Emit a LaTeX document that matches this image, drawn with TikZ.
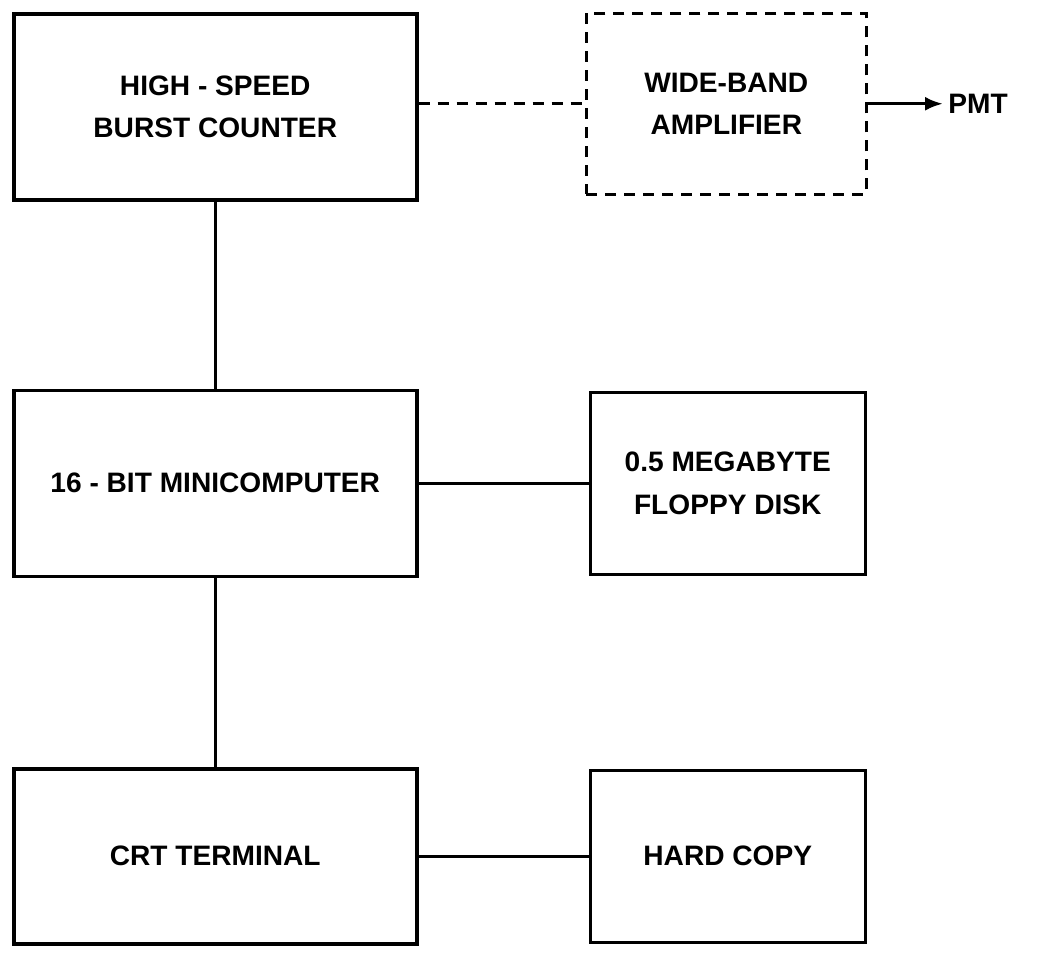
\documentclass[tikz,border=0pt]{standalone}
\usepackage{fontspec}
\setmainfont{Liberation Sans}
\usepackage{tikz}
\usetikzlibrary{arrows.meta, positioning}
\tikzset{
    link/.style={line width=1.9pt},
    flowarrow/.style={-{Latex[length=3.6mm, width=2.8mm]}, line width=1.9pt},
}

\begin{document}
\begin{tikzpicture}[blk/.style={rectangle, draw=black, line width=2pt, align=center, font=\bfseries\fontsize{16}{24}\selectfont, minimum width=8.06cm, minimum height=3.72cm},
                    sideblk/.style={blk, minimum width=5.5cm},
                    dashblk/.style={sideblk, minimum width=5.6cm, dash pattern=on 0.22cm off 0.16cm}]
        \useasboundingbox (0,0) rectangle (20.82,-19.08);
        \node[blk, anchor=north west] (burst) at (0.24,-0.24) {HIGH - SPEED\\BURST COUNTER};
        \node[blk, below=3.74cm of burst] (mini) {16 - BIT MINICOMPUTER};
        \node[blk, below=3.78cm of mini, minimum height=3.5cm] (crt) {CRT TERMINAL};
        \node[dashblk, right=3.32cm of burst, minimum height=3.62cm, yshift=0.06cm] (amp) {WIDE-BAND\\AMPLIFIER};
        \node[sideblk, right=3.4cm of mini, minimum height=3.64cm] (floppy) {0.5 MEGABYTE\\FLOPPY DISK};
        \node[sideblk, right=3.4cm of crt, minimum height=3.44cm] (hard) {HARD COPY};
        \node[right=1.5cm of amp, inner sep=0.1cm, font=\bfseries\fontsize{16}{24}\selectfont] (pmt) {PMT};
        \draw[link, dash pattern=on 0.22cm off 0.16cm] (burst.east |- amp.west) -- (amp.west);
        \draw[link] (burst) -- (mini);
        \draw[link] (mini) -- (crt);
        \draw[link] (mini) -- (floppy);
        \draw[link] (crt) -- (hard);
        \draw[flowarrow] (amp.east) -- (pmt.west);
    \end{tikzpicture}
\end{document}
